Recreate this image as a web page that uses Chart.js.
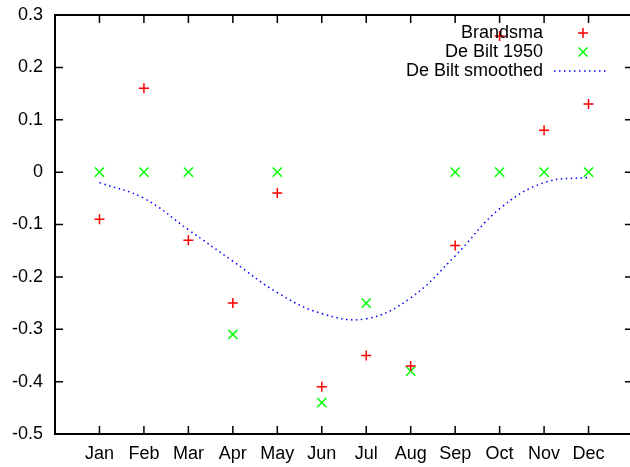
<!DOCTYPE html>
<html>
<head>
<meta charset="utf-8">
<script src="https://cdn.jsdelivr.net/npm/chart.js@4"></script>
<style>
  html, body { margin: 0; padding: 0; background: #fff; overflow: hidden; }
</style>
</head>
<body>
<canvas id="chart" width="630" height="467"></canvas>
<script>
const months = ["Jan", "Feb", "Mar", "Apr", "May", "Jun", "Jul", "Aug", "Sep", "Oct", "Nov", "Dec"];
const brandsma = [-0.09, 0.16, -0.13, -0.25, -0.04, -0.41, -0.35, -0.37, -0.14, 0.26, 0.08, 0.13];
const deBilt1950 = [0, 0, 0, -0.31, 0, -0.44, -0.25, -0.38, 0, 0, 0, 0];
const deBiltSmoothed = [-0.02, -0.05, -0.11, -0.17, -0.23, -0.27, -0.28, -0.24, -0.16, -0.07, -0.02, -0.01];
const yTicks = [0.3, 0.2, 0.1, 0, -0.1, -0.2, -0.3, -0.4, -0.5];

const FONT = "'Liberation Sans', Arial, Helvetica, sans-serif";

function toPoints(values) {
    return values.map((v, i) => ({ x: i + 1, y: v }));
}

function fixPadding(s) {
    s.paddingTop = 0;
    s.paddingBottom = 0;
    s.paddingLeft = 0;
    s.paddingRight = 0;
}

// the original frame runs a few pixels past the right edge of the image
const stretchRight = {
    id: 'stretchRight',
    afterLayout(chart) {
        const xs = chart.scales.x;
        xs.right = chart.width + 3;
        xs.width = xs.right - xs.left;
        xs.configure();
        chart.chartArea.right = xs.right;
        chart.chartArea.width = xs.width;
    }
};

// gnuplot style frame: full box with inward ticks on all four sides, legend at top right
const gnuplotFrame = {
    id: 'gnuplotFrame',
    afterDraw(chart) {
        const ctx = chart.ctx;
        const a = chart.chartArea;
        const xs = chart.scales.x;
        const ys = chart.scales.y;
        const tl = 8;

        ctx.save();
        ctx.strokeStyle = '#000';
        ctx.lineWidth = 1.5;
        ctx.beginPath();
        months.forEach((m, i) => {
            const px = xs.getPixelForValue(i + 1);
            ctx.moveTo(px, a.bottom); ctx.lineTo(px, a.bottom - tl);
            ctx.moveTo(px, a.top); ctx.lineTo(px, a.top + tl);
        });
        yTicks.forEach(v => {
            const py = ys.getPixelForValue(v);
            ctx.moveTo(a.left, py); ctx.lineTo(a.left + tl, py);
            ctx.moveTo(a.right, py); ctx.lineTo(a.right - tl, py);
        });
        ctx.stroke();
        ctx.lineWidth = 2;
        ctx.strokeRect(a.left, a.top, a.right - a.left, a.bottom - a.top);

        // legend
        const textRight = a.right - 90;
        const sampleX = a.right - 50;
        const rows = [a.top + 18, a.top + 37, a.top + 56];
        ctx.font = '18px ' + FONT;
        ctx.fillStyle = '#000';
        ctx.textAlign = 'right';
        ctx.textBaseline = 'middle';
        chart.data.datasets.forEach((ds, i) => {
            ctx.fillText(ds.label, textRight, rows[i]);
        });

        ctx.lineWidth = 1.5;
        ctx.strokeStyle = '#ff0000';
        ctx.beginPath();
        ctx.moveTo(sampleX - 5, rows[0]); ctx.lineTo(sampleX + 5, rows[0]);
        ctx.moveTo(sampleX, rows[0] - 5); ctx.lineTo(sampleX, rows[0] + 5);
        ctx.stroke();

        ctx.strokeStyle = '#00ff00';
        ctx.beginPath();
        ctx.moveTo(sampleX - 4.5, rows[1] - 4.5); ctx.lineTo(sampleX + 4.5, rows[1] + 4.5);
        ctx.moveTo(sampleX - 4.5, rows[1] + 4.5); ctx.lineTo(sampleX + 4.5, rows[1] - 4.5);
        ctx.stroke();

        ctx.strokeStyle = '#0000ff';
        ctx.setLineDash([1.5, 3.5]);
        ctx.beginPath();
        ctx.moveTo(sampleX - 29, rows[2]); ctx.lineTo(sampleX + 25, rows[2]);
        ctx.stroke();
        ctx.restore();
    }
};

new Chart(document.getElementById('chart'), {
    type: 'scatter',
    data: {
        datasets: [
            {
                label: 'Brandsma',
                data: toPoints(brandsma),
                pointStyle: 'cross',
                pointRadius: 5,
                pointHoverRadius: 5,
                borderColor: '#ff0000',
                backgroundColor: '#ff0000',
                borderWidth: 1.5
            },
            {
                label: 'De Bilt 1950',
                data: toPoints(deBilt1950),
                pointStyle: 'crossRot',
                pointRadius: 6.5,
                pointHoverRadius: 6.5,
                borderColor: '#00ff00',
                backgroundColor: '#00ff00',
                borderWidth: 1.5
            },
            {
                label: 'De Bilt smoothed',
                data: toPoints(deBiltSmoothed),
                showLine: true,
                pointRadius: 0,
                borderColor: '#0000ff',
                borderWidth: 1.5,
                borderDash: [1.5, 3.5],
                tension: 0.4,
                fill: false
            }
        ]
    },
    options: {
        responsive: false,
        animation: false,
        layout: { padding: { top: 15, right: 0, left: 0, bottom: 0 } },
        plugins: {
            legend: { display: false },
            tooltip: { enabled: false }
        },
        scales: {
            x: {
                type: 'linear',
                min: 0,
                max: 13,
                grid: { display: false, drawTicks: false },
                border: { display: false },
                ticks: {
                    stepSize: 1,
                    autoSkip: false,
                    maxRotation: 0,
                    padding: 9,
                    color: '#000',
                    font: { family: FONT, size: 18 },
                    callback: v => months[v - 1] || ''
                },
                afterFit: s => { s.height = 33; fixPadding(s); }
            },
            y: {
                min: -0.5,
                max: 0.3,
                grid: { display: false, drawTicks: false },
                border: { display: false },
                ticks: {
                    stepSize: 0.1,
                    padding: 12,
                    color: '#000',
                    font: { family: FONT, size: 18 },
                    callback: v => String(Math.round(v * 10) / 10)
                },
                afterFit: s => { s.width = 55; fixPadding(s); }
            }
        }
    },
    plugins: [stretchRight, gnuplotFrame]
});
</script>
</body>
</html>
